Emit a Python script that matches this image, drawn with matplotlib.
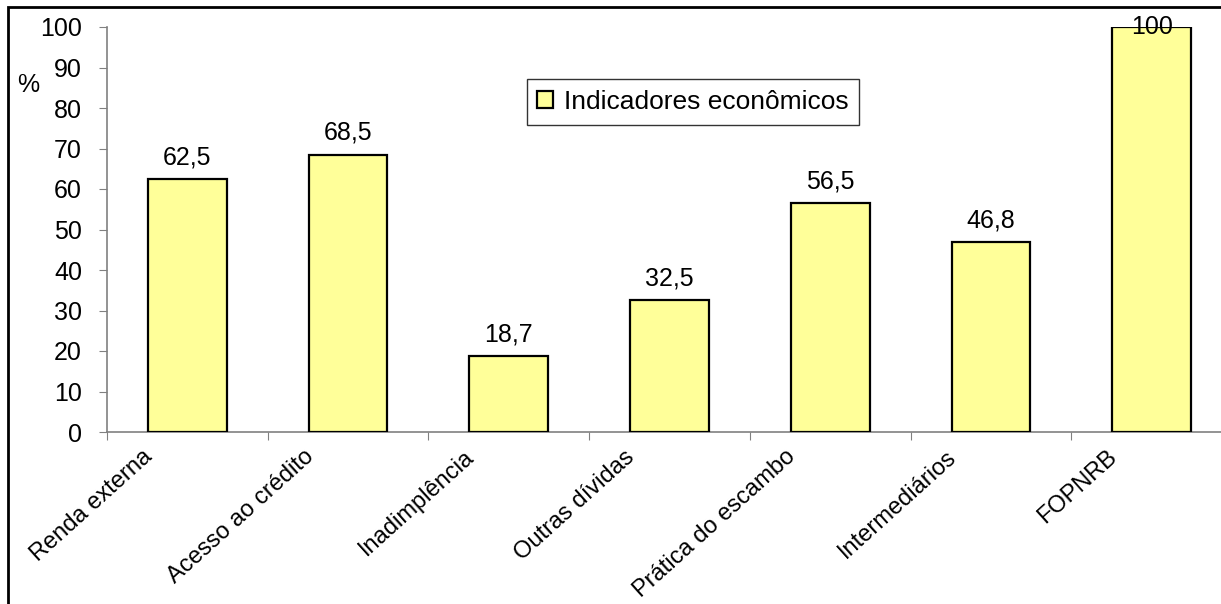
import matplotlib
matplotlib.use('Agg')
import matplotlib.pyplot as plt
import matplotlib.transforms as mtransforms
from matplotlib.patches import Rectangle
import numpy as np

categorias = ['Renda externa', 'Acesso ao crédito', 'Inadimplência', 'Outras dívidas',
              'Prática do escambo', 'Intermediários', 'FOPNRB']
valores = [62.5, 68.5, 18.7, 32.5, 56.5, 46.8, 100]
rotulos = ['62,5', '68,5', '18,7', '32,5', '56,5', '46,8', '100']
yticks = [0, 10, 20, 30, 40, 50, 60, 70, 80, 90, 100]

plt.rcParams['font.family'] = ['Liberation Sans', 'DejaVu Sans']

W, H = 1221, 604
fig = plt.figure(figsize=(W / 100, H / 100), dpi=100)

# frame around the chart (right and bottom edges fall outside the picture)
fig.patches.append(Rectangle((8 / W, -0.1), 1.2, 1 - 7 / H + 0.1, transform=fig.transFigure,
                             fill=False, edgecolor='black', linewidth=2))

left, right, bottom, top = 107, 1232, 432, 27
ax = fig.add_axes([left / W, 1 - bottom / H, (right - left) / W, (bottom - top) / H])

x = np.arange(len(categorias))
ax.bar(x, valores, width=0.49, color='#FFFF99', edgecolor='black', linewidth=1.6,
       label='Indicadores econômicos', zorder=3)

for xi, v, r in zip(x, valores, rotulos):
    if v >= 100:
        ax.annotate(r, (xi, v), xytext=(0, 0), textcoords='offset points',
                    ha='center', va='center', fontsize=18, annotation_clip=False, zorder=4)
    else:
        ax.annotate(r, (xi, v), xytext=(0, 7), textcoords='offset points',
                    ha='center', va='bottom', fontsize=18)

ax.set_xlim(-0.5, len(categorias) - 0.5)
ax.set_ylim(0, 100)
ax.set_yticks(yticks)
ax.tick_params(axis='y', labelsize=18, length=6, color='#808080', direction='out', pad=12)

# ticks between categories, labels under each bar
ax.set_xticks(np.arange(len(categorias) + 1) - 0.5)
ax.set_xticklabels([])
ax.set_xticks(x, minor=True)
ax.set_xticklabels(categorias, minor=True, rotation=42, ha='right', rotation_mode='anchor',
                   fontsize=17)
ax.tick_params(axis='x', which='major', length=6, color='#808080', direction='out')
ax.tick_params(axis='x', which='minor', length=0, pad=10)
shift = mtransforms.ScaledTranslation(-45 / 100, 0, fig.dpi_scale_trans)
for lab in ax.get_xticklabels(minor=True):
    lab.set_transform(lab.get_transform() + shift)

for s in ['top', 'right']:
    ax.spines[s].set_visible(False)
for s in ['left', 'bottom']:
    ax.spines[s].set_color('#808080')
    ax.spines[s].set_linewidth(1.2)

fig.text(17 / W, 1 - 85 / H, '%', fontsize=18, ha='left', va='center')

leg = ax.legend(loc='center', bbox_to_anchor=(693 / W, 1 - 102 / H),
                bbox_transform=fig.transFigure, fontsize=19, frameon=True, fancybox=False,
                handlelength=0.6, handleheight=0.6, handletextpad=0.4, borderpad=0.4,
                borderaxespad=0)
leg.get_frame().set_edgecolor('black')
leg.get_frame().set_linewidth(1.0)

fig.savefig('out.png', dpi=100)
